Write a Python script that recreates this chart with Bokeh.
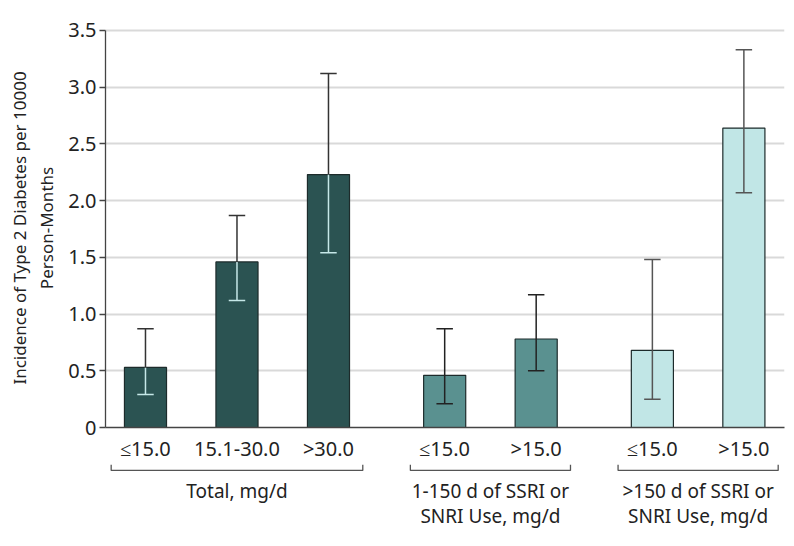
from bokeh.plotting import figure
from bokeh.layouts import column
from bokeh.models import Range1d, FixedTicker, ColumnDataSource
from bokeh.core.properties import value
from bokeh.embed import file_html
from bokeh.resources import INLINE

# ---- data ----
groups = ["Total, mg/d", "1-150 d of SSRI or\nSNRI Use, mg/d", ">150 d of SSRI or\nSNRI Use, mg/d"]
doses = ["≤15.0", "15.1-30.0", ">30.0", "≤15.0", ">15.0", "≤15.0", ">15.0"]
group_of = [0, 0, 0, 1, 1, 2, 2]
incidence = [0.53, 1.46, 2.23, 0.46, 0.78, 0.68, 2.64]
ci_low = [0.29, 1.12, 1.54, 0.21, 0.50, 0.25, 2.07]
ci_high = [0.87, 1.87, 3.12, 0.87, 1.17, 1.48, 3.33]
y_ticks = [0, 0.5, 1.0, 1.5, 2.0, 2.5, 3.0, 3.5]
y_tick_labels = ["0", "0.5", "1.0", "1.5", "2.0", "2.5", "3.0", "3.5"]
y_title = "Incidence of Type 2 Diabetes per 10000\nPerson-Months"

# ---- styles ----
FONT = "Noto Sans"
group_fill = ["#2b5352", "#5a9190", "#c1e6e6"]
group_inner_err = ["#c6e8e8", "#222222", "#555555"]
group_outer_err = ["#333333", "#222222", "#555555"]
GROUP_GAP = 0.27
BAR_W = 0.46
CAP_W = 0.18
X0, X1 = -0.437, 6.984

xs = [i + GROUP_GAP * g for i, g in enumerate(group_of)]
x_range = Range1d(X0, X1)

# ---- main chart ----
p = figure(width=794, height=464, output_backend="svg", toolbar_location=None,
           x_range=x_range, y_range=Range1d(0, 3.5176),
           min_border_left=105, min_border_right=10,
           min_border_top=28, min_border_bottom=36)
p.outline_line_color = None
p.background_fill_color = "white"
p.border_fill_color = "white"
p.xgrid.visible = False

ax = p.yaxis[0]
ax.ticker = FixedTicker(ticks=y_ticks)
ax.major_label_overrides = {t: l for t, l in zip(y_ticks, y_tick_labels)}
ax.bounds = (0, 3.5)
ax.axis_line_color = "#444444"
ax.axis_line_width = 1.3
ax.major_tick_line_color = "#444444"
ax.major_tick_line_width = 1.3
ax.major_tick_in = 0
ax.major_tick_out = 6
ax.minor_tick_line_color = None
ax.major_label_text_font = FONT
ax.major_label_text_font_size = "20px"
ax.major_label_text_color = "#222222"
ax.major_label_standoff = 3
ax.axis_label = y_title
ax.axis_label_text_font = FONT
ax.axis_label_text_font_size = "17px"
ax.axis_label_text_font_style = "normal"
ax.axis_label_text_color = "#222222"
ax.axis_label_standoff = 7

xa = p.xaxis[0]
xa.ticker = FixedTicker(ticks=xs)
xa.major_label_overrides = {x: d for x, d in zip(xs, doses)}
xa.axis_line_color = "#444444"
xa.axis_line_width = 1.5
xa.major_tick_line_color = None
xa.minor_tick_line_color = None
xa.major_tick_in = 0
xa.major_tick_out = 0
xa.major_label_text_font = FONT
xa.major_label_text_font_size = "20px"
xa.major_label_text_color = "#222222"
xa.major_label_standoff = 7

p.ygrid.grid_line_color = "#d9d9d9"
p.ygrid.grid_line_width = 2
p.ygrid.bounds = (0, 3.5)

src = ColumnDataSource(dict(
    x=xs, top=incidence, low=ci_low, high=ci_high,
    fill=[group_fill[g] for g in group_of],
    inner=[group_inner_err[g] for g in group_of],
    outer=[group_outer_err[g] for g in group_of],
    cl=[x - CAP_W / 2 for x in xs], cr=[x + CAP_W / 2 for x in xs],
))

p.vbar(x="x", top="top", bottom=0, width=BAR_W, source=src,
       fill_color="fill", line_color="#1d2b2b", line_width=1.2)

p.segment(x0="x", x1="x", y0="low", y1="top", source=src, line_color="inner", line_width=1.5)
p.segment(x0="x", x1="x", y0="top", y1="high", source=src, line_color="outer", line_width=1.5)
p.segment(x0="cl", x1="cr", y0="low", y1="low", source=src, line_color="inner", line_width=1.5)
p.segment(x0="cl", x1="cr", y0="high", y1="high", source=src, line_color="outer", line_width=1.5)

# ---- group brackets strip below ----
q = figure(width=794, height=82, output_backend="svg", toolbar_location=None,
           x_range=x_range, y_range=Range1d(-1.038, -0.317),
           x_axis_type=None, y_axis_type=None, min_border_left=105,
           min_border_right=10, min_border_top=0, min_border_bottom=0)
q.outline_line_color = None
q.grid.visible = False
q.background_fill_color = "white"
q.border_fill_color = "white"

bx, by, tx, ty, tt = [], [], [], [], []
LINE_Y = [-0.551, -0.771]
for g, name in enumerate(groups):
    members = [x for x, gg in zip(xs, group_of) if gg == g]
    l, r = min(members) - 0.375, max(members) + 0.375
    bx.append([l, l, r, r])
    by.append([-0.317, -0.369, -0.369, -0.317])
    for k, line in enumerate(name.split("\n")):
        tx.append((min(members) + max(members)) / 2)
        ty.append(LINE_Y[k])
        tt.append(line)
q.multi_line(xs=bx, ys=by, line_color="#555555", line_width=1.3)
q.text(x=tx, y=ty, text=tt, text_font=value(FONT),
       text_font_size="19px", text_align="center", text_baseline="middle",
       text_color="#222222")

layout = column(p, q, spacing=0)
open("out.html", "w").write(file_html(layout, INLINE))
